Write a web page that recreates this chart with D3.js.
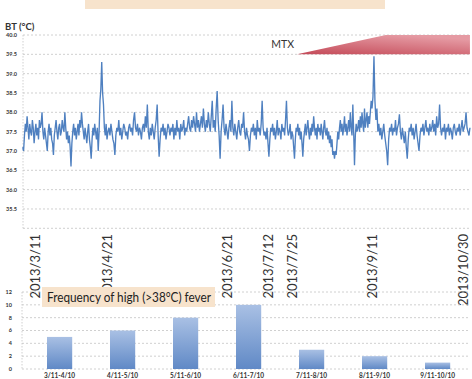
<!DOCTYPE html>
<html><head><meta charset="utf-8">
<script src="https://cdn.jsdelivr.net/npm/d3@7"></script>
<style>
html,body{margin:0;padding:0;background:#fff;}
svg{display:block;font-family:Lato,"Open Sans",sans-serif;}
</style></head>
<body>
<svg id="c" width="472" height="379"></svg>
<script>
// ---- Data ----
// Body temperature readings (°C), two per day starting 2013/3/4
const btValues = [
37.1,37.0,37.4,37.7,37.5,37.9,37.6,37.3,37.7,37.5,37.4,37.8,37.6,37.2,37.5,37.7,37.4,37.6,37.3,37.8,
37.6,37.7,38.0,37.5,37.3,37.6,37.4,37.2,37.0,37.5,37.7,37.4,37.6,37.3,37.2,36.9,37.4,37.6,37.8,37.5,
37.3,37.6,37.7,37.4,37.5,37.8,37.6,37.5,38.0,37.6,37.3,37.5,37.2,37.4,37.1,36.6,37.2,37.5,37.7,37.4,
37.6,37.3,37.5,37.7,37.4,37.8,37.6,38.0,37.7,37.5,37.3,37.6,37.4,37.2,37.5,37.7,37.3,37.1,36.8,37.3,
37.6,37.4,37.7,37.5,37.3,37.6,37.0,37.5,38.3,38.6,39.3,38.5,38.2,37.6,37.4,37.7,37.3,37.5,37.6,37.4,
37.7,37.5,37.3,37.2,36.9,37.4,37.6,37.5,37.8,37.4,37.6,37.3,37.5,37.7,37.6,37.4,37.5,37.3,37.6,37.7,
37.5,37.6,37.4,37.8,38.0,37.6,37.5,37.7,37.4,37.6,37.5,37.3,37.6,37.7,37.5,37.9,37.6,38.2,37.5,37.3,
37.6,37.4,37.7,37.5,37.3,37.6,37.8,38.2,37.4,36.85,37.3,37.6,37.5,37.7,37.4,37.6,37.3,37.5,37.7,37.6,
37.4,37.6,37.5,37.7,37.3,37.6,37.4,37.8,37.5,37.6,37.3,37.7,37.5,37.6,37.8,37.4,37.6,37.5,37.7,37.9,
37.6,37.5,37.8,37.6,37.9,37.7,37.5,38.0,37.6,37.8,37.5,37.7,37.9,37.6,38.1,37.7,37.5,37.8,37.6,38.0,
37.7,37.5,37.9,38.3,37.6,37.8,37.5,38.1,38.55,37.8,37.4,36.8,37.5,37.8,38.2,37.6,37.4,37.7,37.5,37.3,
37.6,37.8,37.5,38.3,37.6,37.4,37.7,37.5,37.3,37.6,37.8,37.5,37.4,37.7,37.6,38.0,37.5,37.3,37.6,37.4,
37.3,37.0,37.4,37.6,37.5,37.7,37.4,37.6,37.3,37.8,37.5,37.6,37.4,37.7,38.3,37.6,37.4,37.5,37.3,37.6,
37.2,36.85,37.3,37.6,37.5,37.7,37.4,37.6,37.3,37.5,37.8,37.4,37.6,37.5,37.3,37.7,37.5,37.6,37.4,37.8,
38.3,37.6,37.4,37.5,37.7,37.3,37.5,37.4,37.1,36.8,37.3,37.6,37.5,37.7,37.4,37.6,37.3,37.5,37.2,36.85,
37.3,37.5,37.7,37.4,37.6,37.8,37.5,37.3,37.6,37.4,37.7,37.5,37.9,37.6,37.4,37.6,37.3,37.7,37.5,37.6,
37.4,37.7,37.5,37.3,37.6,37.8,37.5,37.4,37.6,37.3,37.5,37.2,37.4,37.1,37.3,36.9,37.0,36.8,37.0,36.9,
37.2,37.5,37.3,37.6,37.8,37.5,37.7,37.4,37.6,37.9,37.5,37.7,37.4,37.6,37.8,37.5,38.0,37.6,37.4,38.2,
37.5,36.63,37.4,37.7,37.5,37.6,37.8,37.5,37.9,37.6,38.0,37.7,37.5,38.1,37.6,37.8,38.0,37.6,37.9,37.7,
38.0,38.3,38.1,38.4,39.45,38.3,37.8,38.1,37.5,37.7,37.4,37.6,37.3,37.5,37.7,37.4,37.2,37.0,36.63,37.3,
37.6,37.5,37.7,37.4,37.6,37.5,37.8,37.4,37.6,37.7,37.95,37.5,37.3,37.6,37.4,37.2,37.5,37.1,36.8,37.3,
37.6,37.5,37.7,37.4,37.6,37.3,37.5,37.7,37.4,37.2,37.0,37.4,37.6,37.5,37.7,37.4,37.6,37.8,37.5,37.6,
37.4,37.7,37.5,37.6,37.8,37.5,37.7,37.4,37.9,37.6,37.7,38.2,37.6,37.4,37.6,37.5,37.7,37.3,37.6,37.5,
37.7,37.4,37.6,37.5,37.3,37.6,37.7,37.5,37.4,37.6,37.5,37.7,37.4,37.6,37.8,37.5,37.6,37.7,38.0,37.6,
37.5,37.4,37.6
];
const btStart = [2013, 2, 4];           // first reading date
const readingHours = 12;                 // hours between readings
const dateTickLabels = ["2013/3/11","2013/4/21","2013/6/21","2013/7/12","2013/7/25","2013/9/11","2013/10/30"];
const btTicks = [35.5,36.0,36.5,37.0,37.5,38.0,38.5,39.0,39.5,40.0];
const mtxStart = "2013/7/28", mtxFull = "2013/9/18", mtxEnd = "2013/10/31";

const feverCategories = ["3/11-4/10","4/11-5/10","5/11-6/10","6/11-7/10","7/11-8/10","8/11-9/10","9/11-10/10"];
const feverCounts = [5,6,8,10,3,2,1];
const feverTicks = [0,2,4,6,8,10,12];

// ---- Helpers ----
const parseD = s => { const [y,m,d] = s.split("/").map(Number); return new Date(Date.UTC(y,m-1,d)); };
const svg = d3.select("#c");
const defs = svg.append("defs");

// top title strip (cut off in original)
svg.append("rect").attr("x",85).attr("y",0).attr("width",300).attr("height",9).attr("fill","#f7e3cc");

// ---- Top chart ----
const tickDates = dateTickLabels.map(parseD);
const x = d3.scaleUtc().domain(tickDates).range([35,107,227,268,292,372,468]);
const y = d3.scaleLinear().domain([35,40]).range([228.3,35]);
const L = 23, R = 470;

const gTop = svg.append("g");
gTop.selectAll("line.grid").data(btTicks.concat([35.0])).join("line")
  .attr("x1",L).attr("x2",R).attr("y1",d=>y(d)).attr("y2",d=>y(d))
  .attr("stroke","#c4c4c4").attr("stroke-width",0.8).attr("stroke-dasharray","2,2");
gTop.append("line").attr("x1",L).attr("x2",L).attr("y1",y(40)).attr("y2",y(35))
  .attr("stroke","#c4c4c4").attr("stroke-width",0.8).attr("stroke-dasharray","1.5,1.5");

gTop.selectAll("text.yl").data(btTicks).join("text")
  .attr("x",17).attr("y",d=>y(d)).attr("dy","0.35em").attr("text-anchor","end")
  .attr("font-size",5.5).attr("font-weight","bold").attr("fill","#333")
  .text(d=>d3.format(".1f")(d));
svg.append("text").attr("x",5).attr("y",30).attr("font-size",9.5).attr("font-weight","bold")
  .attr("fill","#333").text("BT (°C)");

// MTX band
const grad = defs.append("linearGradient").attr("id","mtx").attr("x1","0").attr("y1","1").attr("x2","0.6").attr("y2","0");
grad.append("stop").attr("offset","0").attr("stop-color","#c44a58");
grad.append("stop").attr("offset","1").attr("stop-color","#e59aa3");
const mtxPts = [[parseD(mtxStart),39.5],[parseD(mtxFull),40.0],[parseD(mtxEnd),40.0],[parseD(mtxEnd),39.5]];
svg.append("path").attr("d", d3.line().x(d=>x(d[0])).y(d=>y(d[1]))(mtxPts)+"Z").attr("fill","url(#mtx)");
svg.append("text").attr("x",x(parseD(mtxStart))-3).attr("y",y(39.75)).attr("dy","0.35em")
  .attr("text-anchor","end").attr("font-size",10.5).attr("fill","#333").text("MTX");

// data line
const t0 = new Date(Date.UTC(...btStart));
const btData = btValues.map((v,i)=>({d:d3.utcHour.offset(t0,i*readingHours), v}));
svg.append("path").datum(btData)
  .attr("d", d3.line().x(p=>x(p.d)).y(p=>y(p.v)))
  .attr("fill","none").attr("stroke","#4f80c0").attr("stroke-width",1.35).attr("stroke-linejoin","miter");

// date labels (last one kept inside the frame)
svg.selectAll("text.dl").data(tickDates).join("text")
  .attr("transform",d=>`translate(${Math.min(x(d),463)},234) rotate(-90)`)
  .attr("text-anchor","end").attr("dy","0.35em")
  .attr("font-size",13).attr("fill","#333")
  .text((d,i)=>dateTickLabels[i]);

// ---- Bottom bar chart ----
const xb = d3.scaleBand().domain(feverCategories).range([28.1,469.1]).paddingInner(0.6).paddingOuter(0.3);
const yb = d3.scaleLinear().domain([0,12]).range([369,292]);
svg.selectAll("line.bg").data(feverTicks).join("line")
  .attr("x1",22).attr("x2",470).attr("y1",d=>yb(d)).attr("y2",d=>yb(d))
  .attr("stroke","#c4c4c4").attr("stroke-width",0.8).attr("stroke-dasharray","2,2");
svg.append("line").attr("x1",22).attr("x2",22).attr("y1",yb(12)).attr("y2",yb(0))
  .attr("stroke","#c4c4c4").attr("stroke-width",0.8).attr("stroke-dasharray","1.5,1.5");
svg.selectAll("text.byl").data(feverTicks).join("text")
  .attr("x",12).attr("y",d=>yb(d)).attr("dy","0.35em").attr("text-anchor","end")
  .attr("font-size",5.5).attr("font-weight","bold").attr("fill","#333").text(d=>d);

const bg = defs.append("linearGradient").attr("id","bar").attr("x1","0").attr("y1","0").attr("x2","0").attr("y2","1");
bg.append("stop").attr("offset","0").attr("stop-color","#a9c0e4");
bg.append("stop").attr("offset","1").attr("stop-color","#6089c6");
svg.selectAll("rect.bar").data(feverCounts).join("rect")
  .attr("x",(d,i)=>xb(feverCategories[i])).attr("width",xb.bandwidth())
  .attr("y",d=>yb(d)).attr("height",d=>yb(0)-yb(d)).attr("fill","url(#bar)");
svg.selectAll("text.cl").data(feverCategories).join("text")
  .attr("x",d=>xb(d)+xb.bandwidth()/2).attr("y",377.5).attr("text-anchor","middle")
  .attr("font-size",6.5).attr("font-weight","bold").attr("fill","#333").text(d=>d);

// title box
svg.append("rect").attr("x",42).attr("y",287).attr("width",173).attr("height",20).attr("fill","#f7e3cc");
svg.append("text").attr("x",47).attr("y",297.5).attr("dy","0.35em").attr("font-size",12.5)
  .attr("textLength",164).attr("lengthAdjust","spacingAndGlyphs")
  .attr("fill","#222").text("Frequency of high (>38°C) fever");
</script>
</body></html>
